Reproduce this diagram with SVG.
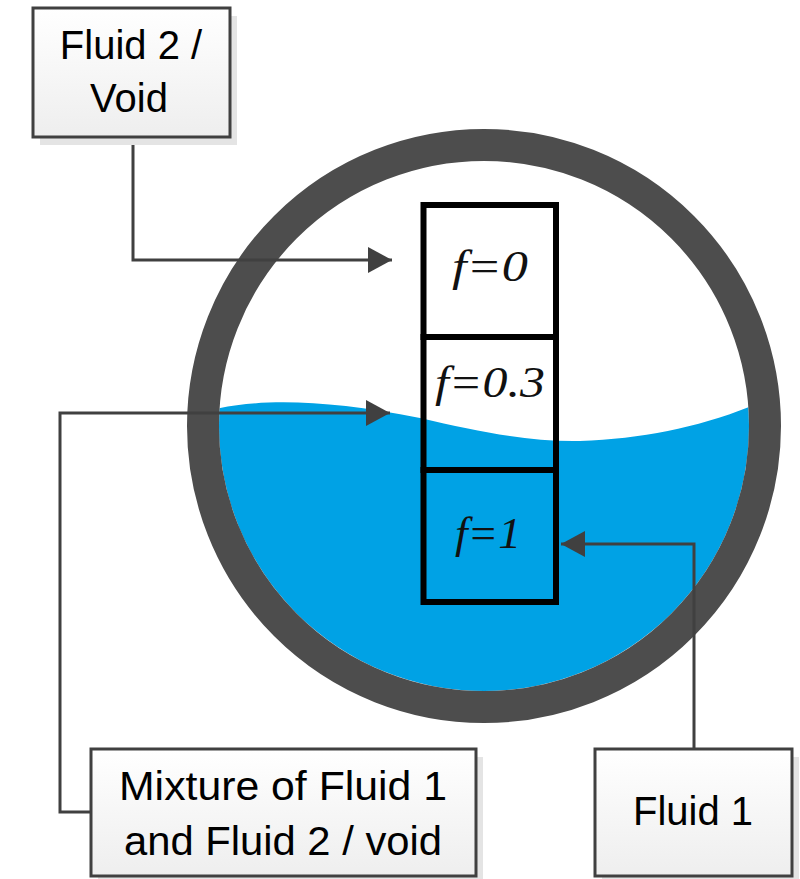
<svg xmlns="http://www.w3.org/2000/svg" width="800" height="879" viewBox="0 0 800 879">
  <style>
    .lbl { font-family: "Liberation Sans", Arial, sans-serif; font-size: 40px; fill: #000; text-anchor: middle; }
    .cellt { font-family: "Liberation Serif", "Times New Roman", serif; font-style: italic; font-size: 44px; fill: #111; text-anchor: middle; }
    .box { fill: url(#boxGrad); stroke: #404040; stroke-width: 3; }
    .shadow { fill: #e4e4e4; }
    .conn { fill: none; stroke: #404040; stroke-width: 3; }
    .cell { fill: none; stroke: #000; stroke-width: 6; }
  </style>
  <defs>
    <linearGradient id="boxGrad" x1="0" y1="0" x2="0" y2="1">
      <stop offset="0" stop-color="#ffffff"/>
      <stop offset="1" stop-color="#eeeeee"/>
    </linearGradient>
    <clipPath id="innerClip">
      <circle cx="484" cy="426" r="265"/>
    </clipPath>
    <marker id="arrow" markerUnits="userSpaceOnUse" markerWidth="24" markerHeight="26" refX="24" refY="13" orient="auto">
      <path d="M0,0 L24,13 L0,26 Z" fill="#404040"/>
    </marker>
  </defs>

  <rect width="800" height="879" fill="#ffffff"/>

  <g id="pipe">
    <circle cx="484" cy="426" r="265" fill="#ffffff"/>
    <path clip-path="url(#innerClip)" fill="#00A2E5" d="M 200 413 C 250 398, 320 398, 420 418 C 480 432, 530 442, 580 441 C 650 438, 710 425, 770 398 L 770 730 L 200 730 Z"/>
    <circle cx="484" cy="426" r="281" fill="none" stroke="#4D4D4D" stroke-width="32"/>
  </g>

  <g id="cells">
    <g id="cell-f0">
      <rect class="cell" x="423.5" y="205" width="132.5" height="132"/>
      <text class="cellt" x="490" y="281" textLength="76" lengthAdjust="spacingAndGlyphs">f=0</text>
    </g>
    <g id="cell-f03">
      <rect class="cell" x="423.5" y="337" width="132.5" height="133"/>
      <text class="cellt" x="490" y="397" textLength="110" lengthAdjust="spacingAndGlyphs">f=0.3</text>
    </g>
    <g id="cell-f1">
      <rect class="cell" x="423.5" y="470" width="132.5" height="132"/>
      <text class="cellt" x="488" y="548" textLength="66" lengthAdjust="spacingAndGlyphs">f=1</text>
    </g>
  </g>

  <g id="connectors">
    <path class="conn" d="M133 137 V260 H392" marker-end="url(#arrow)"/>
    <path class="conn" d="M91 812 H60 V413 H390" marker-end="url(#arrow)"/>
    <path class="conn" d="M694 749 V544 H561" marker-end="url(#arrow)"/>
  </g>

  <g id="label-fluid2">
    <rect class="shadow" x="40" y="16" width="197" height="129"/>
    <rect class="box" x="33" y="8" width="197" height="129"/>
    <text class="lbl" x="131" y="59">Fluid 2 /</text>
    <text class="lbl" x="129" y="112">Void</text>
  </g>

  <g id="label-mixture">
    <rect class="shadow" x="98" y="757" width="385" height="127"/>
    <rect class="box" x="91" y="749" width="385" height="127"/>
    <text class="lbl" x="283" y="800" textLength="328" lengthAdjust="spacingAndGlyphs">Mixture of Fluid 1</text>
    <text class="lbl" x="283" y="855" textLength="318" lengthAdjust="spacingAndGlyphs">and Fluid 2 / void</text>
  </g>

  <g id="label-fluid1">
    <rect class="shadow" x="602" y="757" width="197" height="127"/>
    <rect class="box" x="595" y="749" width="197" height="127"/>
    <text class="lbl" x="693" y="825">Fluid 1</text>
  </g>
</svg>
